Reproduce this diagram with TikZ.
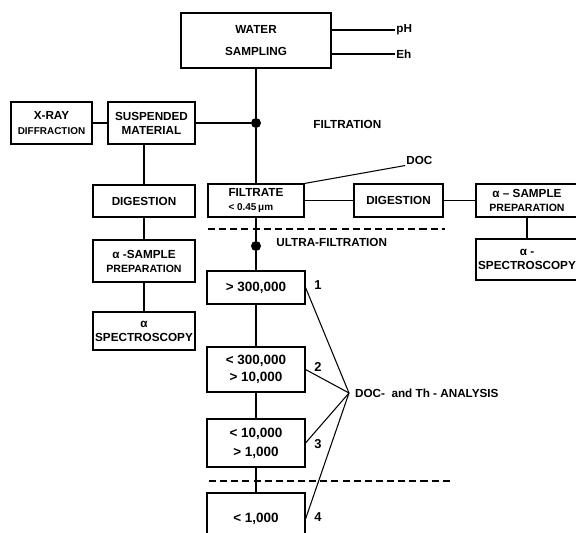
\documentclass[tikz,border=0pt]{standalone}
\usepackage{fontspec}
\setmainfont{Liberation Sans}
\begin{document}
\begin{tikzpicture}[x=0.03cm, y=-0.03cm,
  procbox/.style={draw, line width=0.9pt, align=center, inner sep=1pt, font=\bfseries\fontsize{10}{12}\selectfont},
  plain/.style={inner sep=1pt, font=\bfseries\fontsize{10}{12}\selectfont},
  sizebox/.style={procbox, minimum width=2.94cm, font=\bfseries\fontsize{11.5}{14}\selectfont},
  junction/.style={circle, fill, inner sep=0pt, minimum size=0.3cm},
  wire/.style={line width=0.9pt},
  sievecut/.style={line width=0.9pt, dash pattern=on 6pt off 3.5pt}]
  \clip (0,0) rectangle (576,533);

  % Sampling
  \node[procbox, minimum width=4.5cm, minimum height=1.65cm] (water) at (256,40.5) {WATER\\[7pt]SAMPLING};
  \node[plain, anchor=west] (ph) at (395,30) {pH};
  \node[plain, anchor=west] (eh) at (395,54) {Eh};
  \draw[wire] (ph.west -| water.east) -- (ph.west);
  \draw[wire] (eh.west -| water.east) -- (eh.west);

  % Filtration
  \node[junction] (split) at (256,123) {};
  \node[plain, anchor=west] (filtration) at (312,124) {FILTRATION};
  \node[procbox, minimum width=2.61cm, minimum height=1.26cm] (susp) at (151.5,123) {SUSPENDED\\MATERIAL};
  \node[procbox, minimum width=2.43cm, minimum height=1.26cm, font=\bfseries\fontsize{8.5}{12}\selectfont] (xray) at (51.5,123) {{\fontsize{10}{12}\selectfont X-RAY}\\DIFFRACTION};
  \draw[wire] (water.south) -- (split);
  \draw[wire] (susp.east) -- (split);
  \draw[wire] (xray.east) -- (susp.west);

  % Suspended material branch
  \node[procbox, minimum width=3.06cm, minimum height=0.96cm] (digsusp) at (144,201) {DIGESTION};
  \node[procbox, minimum width=3.06cm, minimum height=1.26cm] (prepsusp) at (144,261) {α -SAMPLE\\{\fontsize{9}{11}\selectfont PREPARATION}};
  \node[procbox, minimum width=3.06cm, minimum height=1.14cm] (specsusp) at (144,331) {α\\SPECTROSCOPY};
  \draw[wire] (digsusp.north) -- (digsusp.north |- susp.south);
  \draw[wire] (digsusp.south) -- (prepsusp.north);
  \draw[wire] (prepsusp.south) -- (specsusp.north);

  % Filtrate branch
  \node[procbox, align=left, minimum width=2.88cm, minimum height=0.99cm] (filtrate) at (256,200.5) {FILTRATE\\{\fontsize{8.5}{10}\selectfont < 0.45\,μm}};
  \node[plain, anchor=west] (doc) at (405,160) {DOC};
  \node[procbox, minimum width=2.67cm, minimum height=0.99cm] (digfilt) at (398.5,200.5) {DIGESTION};
  \node[procbox, minimum width=3.06cm, minimum height=0.99cm] (prepfilt) at (527,200.5) {α – SAMPLE\\{\fontsize{9}{10}\selectfont PREPARATION}};
  \node[procbox, minimum width=3.06cm, minimum height=1.23cm] (specfilt) at (527,259.5) {α -\\SPECTROSCOPY};
  \draw[wire] (split) -- (filtrate.north);
  \draw[wire] (filtrate.north east) -- (doc.south west);
  \draw[wire] (filtrate.east) -- (digfilt.west);
  \draw[wire] (digfilt.east) -- (prepfilt.west);
  \draw[wire] (prepfilt.south) -- (specfilt.north);

  % Ultra-filtration
  \draw[sievecut] (208,229) -- (445,229);
  \node[junction] (usplit) at (256,246) {};
  \node[plain, anchor=west] (ultra) at (275,242) {ULTRA-FILTRATION};
  \node[sizebox, minimum height=0.99cm] (frac1) at (256,287.5) {> 300,000};
  \node[sizebox, minimum height=1.35cm] (frac2) at (256,369.5) {< 300,000\\> 10,000};
  \node[sizebox, minimum height=1.44cm] (frac3) at (256,443) {< 10,000\\[2pt]> 1,000};
  \node[sizebox, minimum height=1.56cm] (frac4) at (256,519) {< 1,000};
  \draw[sievecut] (209,481) -- (450,481);
  \draw[wire] (filtrate.south) -- (usplit) -- (frac1.north);
  \draw[wire] (frac1.south) -- (frac2.north);
  \draw[wire] (frac2.south) -- (frac3.north);
  \draw[wire] (frac3.south) -- (frac4.north);

  % Analysis
  \node[plain, font=\bfseries\fontsize{11}{12}\selectfont] (n1) at (318,285) {1};
  \node[plain, font=\bfseries\fontsize{11}{12}\selectfont] (n2) at (318,367) {2};
  \node[plain, font=\bfseries\fontsize{11}{12}\selectfont] (n3) at (318,444) {3};
  \node[plain, font=\bfseries\fontsize{11}{12}\selectfont] (n4) at (318,517) {4};
  \node[plain, anchor=west, inner xsep=5pt] (analysis) at (349,393) {DOC-~~and Th - ANALYSIS};
  \foreach \k in {1,...,4} {
    \draw[wire] (frac\k.east) -- (analysis.west);
  }
\end{tikzpicture}
\end{document}
